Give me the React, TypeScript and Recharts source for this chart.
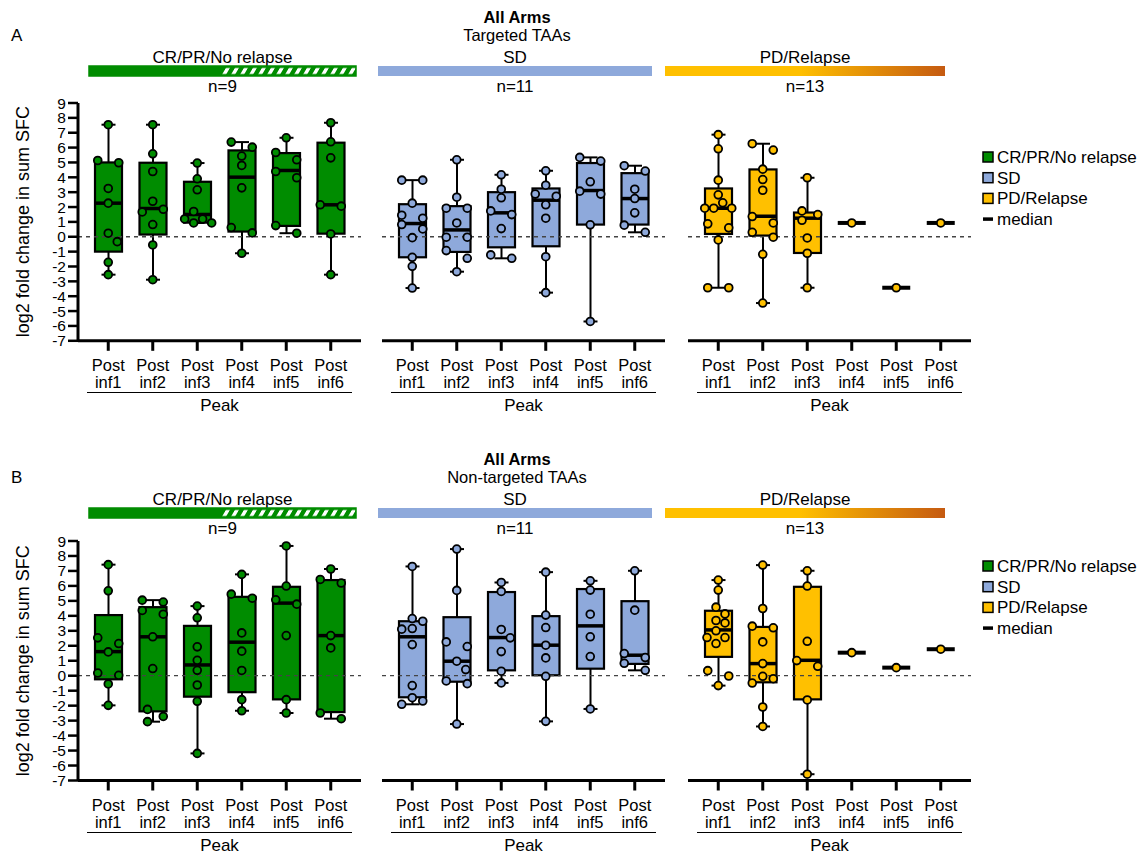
import React from 'react';
import { ComposedChart, Bar, Scatter, XAxis, YAxis, ReferenceLine } from 'recharts';

const FONT = '"Liberation Sans", Arial, Helvetica, sans-serif';

const TIMEPOINTS = ['Post inf1', 'Post inf2', 'Post inf3', 'Post inf4', 'Post inf5', 'Post inf6'];
const Y_TICKS = [-7, -6, -5, -4, -3, -2, -1, 0, 1, 2, 3, 4, 5, 6, 7, 8, 9];
const RESPONSE_GROUPS = ['CR/PR/No relapse', 'SD', 'PD/Relapse'];
const GROUP_N = ['n=9', 'n=11', 'n=13'];
const PANEL_TITLES = ['All Arms', 'All Arms'];
const PANEL_SUBTITLES = ['Targeted TAAs', 'Non-targeted TAAs'];
const PANEL_LETTERS = ['A', 'B'];
const X_GROUP_LABEL = 'Peak';
const Y_LABEL = 'log2 fold change in sum SFC';

// ---- Panel A: targeted TAAs, one value per patient ----
const A_CR_POINTS = [
  [7.54, 5.13, 4.98, 3.25, 2.26, 0.24, -0.33, -1.72, -2.55],
  [7.54, 5.58, 4.39, 2.39, 1.85, 1.67, 0.82, -0.55, -2.89],
  [4.96, 3.9, 3.16, 1.7, 1.2, 1.2, 0.93, 0.93],
  [6.37, 6.03, 5.43, 4.8, 3.29, 0.62, 0.26, -1.11],
  [6.66, 5.67, 5.18, 4.39, 3.97, 0.75, 0.24],
  [7.67, 6.39, 5.31, 2.15, 2.06, 0.19, -2.55],
];
// [min, q1, median, q3, max]
const A_CR_BOX = [
  [-2.55, -1.0, 2.26, 5.0, 7.54],
  [-2.89, 0.15, 1.9, 4.98, 7.54],
  [0.93, 0.95, 1.5, 3.7, 4.96],
  [-1.11, 0.35, 4.01, 5.81, 6.37],
  [0.24, 0.73, 4.46, 5.63, 6.66],
  [-2.55, 0.21, 2.15, 6.33, 7.67],
];
const A_SD_POINTS = [
  [3.81, 3.81, 2.26, 1.45, 1.25, 0.82, 0.53, -0.06, -1.38, -1.99, -3.45],
  [5.18, 2.66, 1.92, 1.92, 0.93, -0.03, -0.03, -0.93, -1.45, -2.35],
  [4.17, 3.2, 2.62, 1.74, 1.49, 0.55, -1.22, -1.45],
  [4.44, 3.47, 2.87, 2.73, 2.15, 1.25, -1.34, -3.76],
  [5.34, 5.09, 3.7, 3.07, 2.87, 0.8, -5.7],
  [4.78, 4.42, 3.2, 2.57, 1.61, 0.78, 0.3],
];
const A_SD_BOX = [
  [-3.45, -1.38, 0.89, 2.19, 3.81],
  [-2.35, -1.02, 0.46, 2.06, 5.18],
  [-1.45, -0.71, 1.61, 3.0, 4.17],
  [-3.76, -0.64, 2.46, 3.25, 4.44],
  [-5.7, 0.82, 3.11, 4.96, 5.34],
  [0.3, 0.82, 2.57, 4.28, 4.78],
];
const A_PD_POINTS = [
  [6.87, 5.92, 3.81, 2.82, 2.28, 1.92, 1.92, 1.92, 0.87, 0.6, -0.21, -3.43, -3.43],
  [6.26, 5.83, 4.55, 3.85, 3.13, 1.36, 0.93, 0.3, -0.03, -1.18, -4.46],
  [3.97, 1.74, 1.49, 1.11, -0.08, -1.11, -3.43],
  [0.93],
  [-3.43],
  [0.93],
];
const A_PD_BOX = [
  [-3.43, 0.19, 1.92, 3.25, 6.87],
  [-4.46, 0.08, 1.38, 4.53, 6.26],
  [-3.43, -1.09, 1.25, 1.63, 3.97],
  [0.93, 0.93, 0.93, 0.93, 0.93],
  [-3.43, -3.43, -3.43, -3.43, -3.43],
  [0.93, 0.93, 0.93, 0.93, 0.93],
];

// ---- Panel B: non-targeted TAAs ----
const B_CR_POINTS = [
  [7.42, 5.67, 2.53, 2.15, 1.59, 0.18, 0.03, -0.55, -1.98],
  [5.05, 4.92, 4.36, 4.11, 2.6, 0.48, -2.25, -2.72, -3.07],
  [4.65, 3.87, 1.93, 1.03, 0.36, -0.62, -1.71, -5.19],
  [6.77, 5.45, 5.18, 2.86, 1.64, 0.35, -1.6, -2.34],
  [8.67, 5.99, 5.07, 4.78, 2.68, -1.6, -2.49],
  [7.13, 6.43, 6.19, 2.68, 1.86, -2.49, -2.87],
];
const B_CR_BOX = [
  [-1.98, -0.24, 1.61, 4.05, 7.42],
  [-3.07, -2.38, 2.6, 4.58, 5.05],
  [-5.19, -1.4, 0.72, 3.33, 4.65],
  [-2.34, -1.1, 2.24, 5.27, 6.77],
  [-2.49, -1.58, 4.85, 5.94, 8.67],
  [-2.87, -2.43, 2.68, 6.39, 7.13],
];
const B_SD_POINTS = [
  [7.3, 3.82, 3.64, 3.15, 3.11, 2.08, -0.66, -1.47, -1.69, -1.91],
  [8.46, 5.7, 2.26, 1.95, 0.97, 0.41, -0.35, -0.53, -3.23],
  [6.23, 5.63, 3.09, 2.53, 1.61, 0.3, -0.48],
  [6.92, 4.05, 3.22, 2.04, 1.19, -0.04, -3.05],
  [6.34, 5.72, 4.11, 2.6, 1.28, -2.22],
  [7.01, 4.38, 1.48, 1.21, 0.83, 0.36],
];
const B_SD_BOX = [
  [-1.91, -1.44, 2.6, 3.64, 7.3],
  [-3.23, -0.4, 0.97, 3.91, 8.46],
  [-0.48, 0.36, 2.55, 5.59, 6.23],
  [-3.05, 0.03, 2.04, 3.98, 6.92],
  [-2.22, 0.47, 3.33, 5.79, 6.34],
  [0.36, 0.79, 1.37, 4.98, 7.01],
];
const B_PD_POINTS = [
  [6.39, 5.72, 4.58, 4.13, 3.69, 3.53, 3.0, 2.55, 2.55, 2.15, 0.34, -0.02, -0.66],
  [7.39, 4.49, 3.31, 3.2, 2.26, 0.81, -0.04, -0.2, -0.49, -2.09, -3.39],
  [7.01, 5.99, 2.3, 1.01, 0.63, -1.62, -6.58],
  [1.54],
  [0.54],
  [1.77],
];
const B_PD_BOX = [
  [-0.66, 1.26, 3.06, 4.34, 6.39],
  [-3.39, -0.44, 0.81, 3.26, 7.39],
  [-6.58, -1.58, 1.03, 5.94, 7.01],
  [1.54, 1.54, 1.54, 1.54, 1.54],
  [0.54, 0.54, 0.54, 0.54, 0.54],
  [1.77, 1.77, 1.77, 1.77, 1.77],
];

const COLORS = ['#008C00', '#8EA9DB', '#FFC000'];

// layout
const GROUP_LEFTS = [78, 382, 688];
const PLOT_W = 283;
const Y_AXIS_W = 78;
const MARGIN_TOP = 10;
const X_AXIS_H = 56;
const PANEL_LAYOUT = [
  { plotTop: 102.7, plotBottom: 340.5, head: 0, legendY: 157 },
  { plotTop: 541, plotBottom: 780.5, head: 442, legendY: 566 },
];
const HEADER_BARS = [
  [89, 356],
  [378, 652],
  [665, 945],
];

// spread overlapping dots sideways, like a column scatter
function swarmOffsets(values: number[], pxPerUnit: number): number[] {
  const D = 8.5, S = 9, W = 10.5;
  const ys = values.map((v) => -v * pxPerUnit);
  const dx = values.map(() => 0);
  const order = values.map((_, i) => i).sort((a, b) => values[b] - values[a]);
  const parent = values.map((_, i) => i);
  const find = (i: number): number => (parent[i] === i ? i : (parent[i] = find(parent[i])));
  const placed: number[] = [];
  for (const i of order) {
    const cands = [0, S, -S, 2 * S, -2 * S, 3 * S, -3 * S];
    for (const c of cands) {
      if (placed.every((j) => Math.hypot(dx[j] - c, ys[j] - ys[i]) >= D)) {
        dx[i] = c;
        break;
      }
    }
    for (const j of placed) if (Math.abs(ys[j] - ys[i]) < 8) parent[find(j)] = find(i);
    placed.push(i);
  }
  const groups = new Map<number, number[]>();
  values.forEach((_, i) => {
    const r = find(i);
    groups.set(r, [...(groups.get(r) || []), i]);
  });
  groups.forEach((idx) => {
    if (idx.length < 2) return;
    const mean = idx.reduce((s, i) => s + dx[i], 0) / idx.length;
    idx.forEach((i) => (dx[i] -= mean));
    const m = Math.max(...idx.map((i) => Math.abs(dx[i])));
    if (m > 0 && m < W) idx.forEach((i) => (dx[i] *= W / m));
  });
  return dx;
}

const BoxShape = (props: any) => {
  const { x, y, width, height, payload, fill } = props;
  const [mn, q1, med, q3, mx] = payload.stats;
  if (mx === mn) return <g />;
  const top = Math.min(y, y + height);
  const h = Math.abs(height);
  const yOf = (v: number) => top + ((mx - v) / (mx - mn)) * h;
  const cx = x + width / 2;
  const cap = 7;
  return (
    <g>
      <line x1={cx} x2={cx} y1={yOf(mx)} y2={yOf(mn)} stroke="#000" strokeWidth={2} />
      <line x1={cx - cap} x2={cx + cap} y1={yOf(mx)} y2={yOf(mx)} stroke="#000" strokeWidth={2} />
      <line x1={cx - cap} x2={cx + cap} y1={yOf(mn)} y2={yOf(mn)} stroke="#000" strokeWidth={2} />
      <rect x={x} y={yOf(q3)} width={width} height={yOf(q1) - yOf(q3)} fill={fill} stroke="#000" strokeWidth={2.2} />
      <line x1={x} x2={x + width} y1={yOf(med)} y2={yOf(med)} stroke="#000" strokeWidth={3.5} />
    </g>
  );
};

const makeDot = (color: string) => (props: any) => {
  const { cx, cy, payload } = props;
  return (
    <g>
      {payload.single && <line x1={cx - 14} x2={cx + 14} y1={cy} y2={cy} stroke="#000" strokeWidth={4} />}
      <circle cx={cx + payload.dx} cy={cy} r={3.9} fill={color} stroke="#000" strokeWidth={1.8} />
    </g>
  );
};

const CatTick = (props: any) => {
  const { x, y, payload } = props;
  const [a, b] = String(payload.value).split(' ');
  return (
    <g>
      <text x={x} y={y + 18.5} textAnchor="middle" fontSize={16.5} fontFamily={FONT} fill="#000">{a}</text>
      <text x={x} y={y + 35} textAnchor="middle" fontSize={16.5} fontFamily={FONT} fill="#000">{b}</text>
    </g>
  );
};

function GroupChart({ points, box, color, withYAxis, plotLeft, plotTop, plotBottom }: any) {
  const plotH = plotBottom - plotTop;
  const pxPerUnit = plotH / 16;
  const data = TIMEPOINTS.map((t, i) => ({ t, range: [box[i][0], box[i][4]], stats: box[i] }));
  const dots = TIMEPOINTS.flatMap((t, i) => {
    const offs = swarmOffsets(points[i], pxPerUnit);
    return points[i].map((v: number, k: number) => ({ t, v, dx: offs[k], single: points[i].length === 1 }));
  });
  const yw = withYAxis ? Y_AXIS_W : 0;
  const width = yw + PLOT_W + 3;
  const height = MARGIN_TOP + plotH + X_AXIS_H;
  return (
    <div style={{ position: 'absolute', left: plotLeft - yw, top: plotTop - MARGIN_TOP }}>
      <ComposedChart width={width} height={height} data={data} margin={{ top: MARGIN_TOP, right: 3, bottom: 0, left: 0 }}>
        <XAxis
          dataKey="t"
          type="category"
          allowDuplicatedCategory={false}
          padding={{ left: 8, right: 8 }}
          axisLine={{ stroke: '#000', strokeWidth: 3 }}
          tickLine={{ stroke: '#000', strokeWidth: 3 }}
          tickSize={10}
          height={X_AXIS_H}
          interval={0}
          tick={<CatTick />}
        />
        <YAxis
          hide={!withYAxis}
          type="number"
          domain={[-7, 9]}
          ticks={Y_TICKS}
          interval={0}
          width={yw}
          tickSize={10}
          tickMargin={2}
          axisLine={{ stroke: '#000', strokeWidth: 3 }}
          tickLine={{ stroke: '#000', strokeWidth: 2.5 }}
          tick={{ fill: '#000', fontSize: 15.5, fontFamily: FONT }}
        />
        <ReferenceLine y={0} stroke="#444" strokeWidth={1.3} strokeDasharray="4 4" />
        <Bar dataKey="range" barSize={27} fill={color} shape={BoxShape} isAnimationActive={false} />
        <Scatter data={dots} dataKey="v" shape={makeDot(color)} isAnimationActive={false} />
      </ComposedChart>
    </div>
  );
}

const PANEL_DATA = [
  [
    [A_CR_POINTS, A_CR_BOX],
    [A_SD_POINTS, A_SD_BOX],
    [A_PD_POINTS, A_PD_BOX],
  ],
  [
    [B_CR_POINTS, B_CR_BOX],
    [B_SD_POINTS, B_SD_BOX],
    [B_PD_POINTS, B_PD_BOX],
  ],
];

function Header({ p }: { p: number }) {
  const h = PANEL_LAYOUT[p].head;
  const barTop = 66 + h;
  const [g0, g1] = HEADER_BARS[0];
  const split = 222;
  return (
    <g fontFamily={FONT} fill="#000">
      <text x={11} y={41 + h} fontSize={17}>{PANEL_LETTERS[p]}</text>
      <text x={517} y={23 + h} fontSize={16.5} fontWeight="bold" textAnchor="middle">{PANEL_TITLES[p]}</text>
      <text x={517} y={41 + h} fontSize={16.5} textAnchor="middle">{PANEL_SUBTITLES[p]}</text>
      {RESPONSE_GROUPS.map((g, i) => (
        <text key={g} x={(HEADER_BARS[i][0] + HEADER_BARS[i][1]) / 2} y={63 + h} fontSize={17} textAnchor="middle">{g}</text>
      ))}
      {GROUP_N.map((n, i) => (
        <text key={n} x={(HEADER_BARS[i][0] + HEADER_BARS[i][1]) / 2} y={92 + h} fontSize={17} textAnchor="middle">{n}</text>
      ))}
      <g transform={`translate(0, ${barTop})`}>
        <rect x={g0} y={0} width={g1 - g0} height={10} fill="url(#crStripes)" stroke={COLORS[0]} strokeWidth={1.5} />
        <polygon points={`${g0},0 ${split + 4},0 ${split - 4},10 ${g0},10`} fill={COLORS[0]} />
        <rect x={HEADER_BARS[1][0]} y={0} width={HEADER_BARS[1][1] - HEADER_BARS[1][0]} height={10} fill={COLORS[1]} />
        <rect x={HEADER_BARS[2][0]} y={0} width={HEADER_BARS[2][1] - HEADER_BARS[2][0]} height={10} fill="url(#pdGrad)" />
      </g>
    </g>
  );
}

function Annotations({ p }: { p: number }) {
  const { plotTop, plotBottom, legendY } = PANEL_LAYOUT[p];
  const cy = (plotTop + plotBottom) / 2;
  const legendItems = RESPONSE_GROUPS.map((g, i) => ({ label: g, color: COLORS[i] }));
  return (
    <g fontFamily={FONT} fill="#000">
      <text transform={`translate(23, ${cy}) rotate(-90)`} textAnchor="middle" dominantBaseline="central" fontSize={18}>
        {Y_LABEL}
      </text>
      {GROUP_LEFTS.map((l) => (
        <g key={l}>
          <line x1={l + 9} x2={l + PLOT_W - 9} y1={plotBottom + 52} y2={plotBottom + 52} stroke="#000" strokeWidth={1.2} />
          <text x={l + PLOT_W / 2} y={plotBottom + 70} textAnchor="middle" fontSize={17}>{X_GROUP_LABEL}</text>
        </g>
      ))}
      {legendItems.map((it, i) => (
        <g key={it.label}>
          <rect x={983} y={legendY + i * 20.7 - 5} width={10} height={10} fill={it.color} stroke="#000" strokeWidth={1.5} />
          <text x={997} y={legendY + i * 20.7 + 6} fontSize={17}>{it.label}</text>
        </g>
      ))}
      <line x1={983} x2={993} y1={legendY + 3 * 20.7} y2={legendY + 3 * 20.7} stroke="#000" strokeWidth={3.5} />
      <text x={997} y={legendY + 3 * 20.7 + 6} fontSize={17}>median</text>
    </g>
  );
}

export default function App() {
  return (
    <div style={{ position: 'absolute', left: 0, top: 0, width: 1147, height: 853, background: '#fff', fontFamily: FONT }}>
      <svg width={1147} height={853} style={{ position: 'absolute', left: 0, top: 0, pointerEvents: 'none' }}>
        <defs>
          <pattern id="crStripes" patternUnits="userSpaceOnUse" width={9} height={10} patternTransform="skewX(-30)">
            <rect width={9} height={10} fill={COLORS[0]} />
            <rect x={2} y={2} width={4} height={6} fill="#fff" />
          </pattern>
          <linearGradient id="pdGrad" x1="0" x2="1" y1="0" y2="0">
            <stop offset="0.48" stopColor="#FFC000" />
            <stop offset="1" stopColor="#C55A11" />
          </linearGradient>
        </defs>
        {[0, 1].map((p) => (
          <g key={p}>
            <Header p={p} />
            <Annotations p={p} />
          </g>
        ))}
      </svg>
      {PANEL_DATA.map((groups, p) =>
        groups.map(([pts, bx], g) => (
          <GroupChart
            key={`${p}-${g}`}
            points={pts}
            box={bx}
            color={COLORS[g]}
            withYAxis={g === 0}
            plotLeft={GROUP_LEFTS[g]}
            plotTop={PANEL_LAYOUT[p].plotTop}
            plotBottom={PANEL_LAYOUT[p].plotBottom}
          />
        ))
      )}
    </div>
  );
}
